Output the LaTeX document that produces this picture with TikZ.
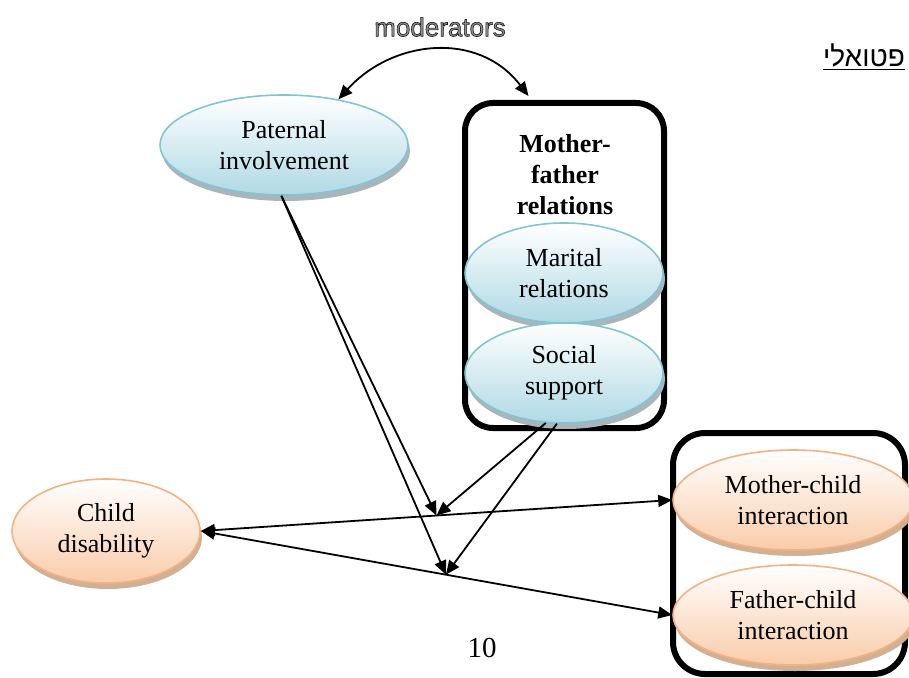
\documentclass[tikz,border=0pt]{standalone}
\usepackage{fontspec}
\setmainfont{Liberation Serif}
\newfontfamily\labelsans{Liberation Sans}
\newfontfamily\hebfont[Script=Hebrew]{Liberation Sans}
\TeXXeTstate=1
\usepackage{tikz}
\usetikzlibrary{arrows.meta,shapes.geometric,shadows}
\definecolor{ovalblue}{RGB}{176,217,229}
\definecolor{ovalblueline}{RGB}{128,197,214}
\definecolor{ovalbluerim}{RGB}{168,182,188}
\definecolor{ovalorange}{RGB}{249,204,170}
\definecolor{ovalorangeline}{RGB}{244,178,130}
\definecolor{ovalorangerim}{RGB}{212,176,146}
\tikzset{
  blueoval/.style={
    ellipse,
    draw=ovalblueline,
    line width=0.8pt,
    top color=white,
    bottom color=ovalblue,
    general shadow={shadow xshift=1pt, shadow yshift=-3pt, fill=ovalbluerim},
    align=center,
    inner sep=0pt,
    font=\fontsize{13}{15.5}\selectfont
  },
  orangeoval/.style={
    ellipse,
    draw=ovalorangeline,
    line width=0.8pt,
    top color=white,
    bottom color=ovalorange,
    general shadow={shadow xshift=1pt, shadow yshift=-3pt, fill=ovalorangerim},
    align=center,
    inner sep=0pt,
    font=\fontsize{13}{15.5}\selectfont
  },
  groupbox/.style={
    rectangle,
    rounded corners=14pt,
    draw=black,
    line width=3pt,
    inner sep=0pt
  },
  grouptitle/.style={
    align=center,
    font=\fontsize{13}{15.5}\selectfont\bfseries
  },
  modtext/.style={
    font=\labelsans\fontsize{13}{15}\selectfont
  },
  linkarrow/.style={
    {Triangle[length=7pt,width=6pt]}-{Triangle[length=7pt,width=6pt]},
    line width=0.9pt,
    draw=black
  },
  modarrow/.style={
    -{Triangle[length=7pt,width=6pt]},
    line width=0.9pt,
    draw=black
  }
}

\begin{document}
\begin{tikzpicture}[x=0.5pt, y=-0.5pt]
\useasboundingbox (0,0) rectangle (909,678);

\node[groupbox, minimum width=99.5pt, minimum height=162.5pt] (mfbox) at (564.5,265.5) {};
\node[groupbox, rounded corners=16pt, minimum width=116pt, minimum height=120.5pt] (outbox) at (789,553.5) {};
\node[grouptitle] (mftitle) at (565,175) {Mother-\\father\\relations};

\node[blueoval, minimum width=124pt, minimum height=50pt] (pat) at (284,145) {Paternal\\involvement};
\node[blueoval, minimum width=99pt, minimum height=50pt] (mar) at (564,273) {Marital\\relations};
\node[blueoval, minimum width=99pt, minimum height=50pt] (soc) at (564,373) {Social\\support};
\node[orangeoval, minimum width=94pt, minimum height=52pt] (chd) at (106,531) {Child\\disability};
\node[orangeoval, minimum width=120pt, minimum height=50pt] (mc) at (793,500) {Mother-child\\interaction};
\node[orangeoval, minimum width=120pt, minimum height=50pt] (fc) at (793,615) {Father-child\\interaction};

\node[modtext] (modlabel) at (440,27) {{\color{black!45}\special{pdf:literal direct 2 Tr 0.3 w 0.1 G}moderators\special{pdf:literal direct 0 Tr}}};
\node[font=\hebfont\fontsize{14}{16}\selectfont] (heblabel) at (864,57) {\underline{\beginR פטואלי\endR}};
\node[font=\fontsize{14.5}{16}\selectfont] (pagenum) at (482,648) {10};

\draw[linkarrow] (pat.40) .. controls (392,40) and (478,30) .. ([xshift=-18pt,yshift=2pt]mfbox.north);

\draw[linkarrow] (chd.east) -- coordinate[pos=0.5] (upmid) (mc.west);
\draw[linkarrow] (chd.east) -- coordinate[pos=0.52] (lowmid) (fc.west);

\draw[modarrow] (pat.267) -- (upmid);
\draw[modarrow] (pat.267) -- (lowmid);
\draw[modarrow] (soc.250) -- (upmid);
\draw[modarrow] (soc.262) -- (lowmid);
\end{tikzpicture}
\end{document}
